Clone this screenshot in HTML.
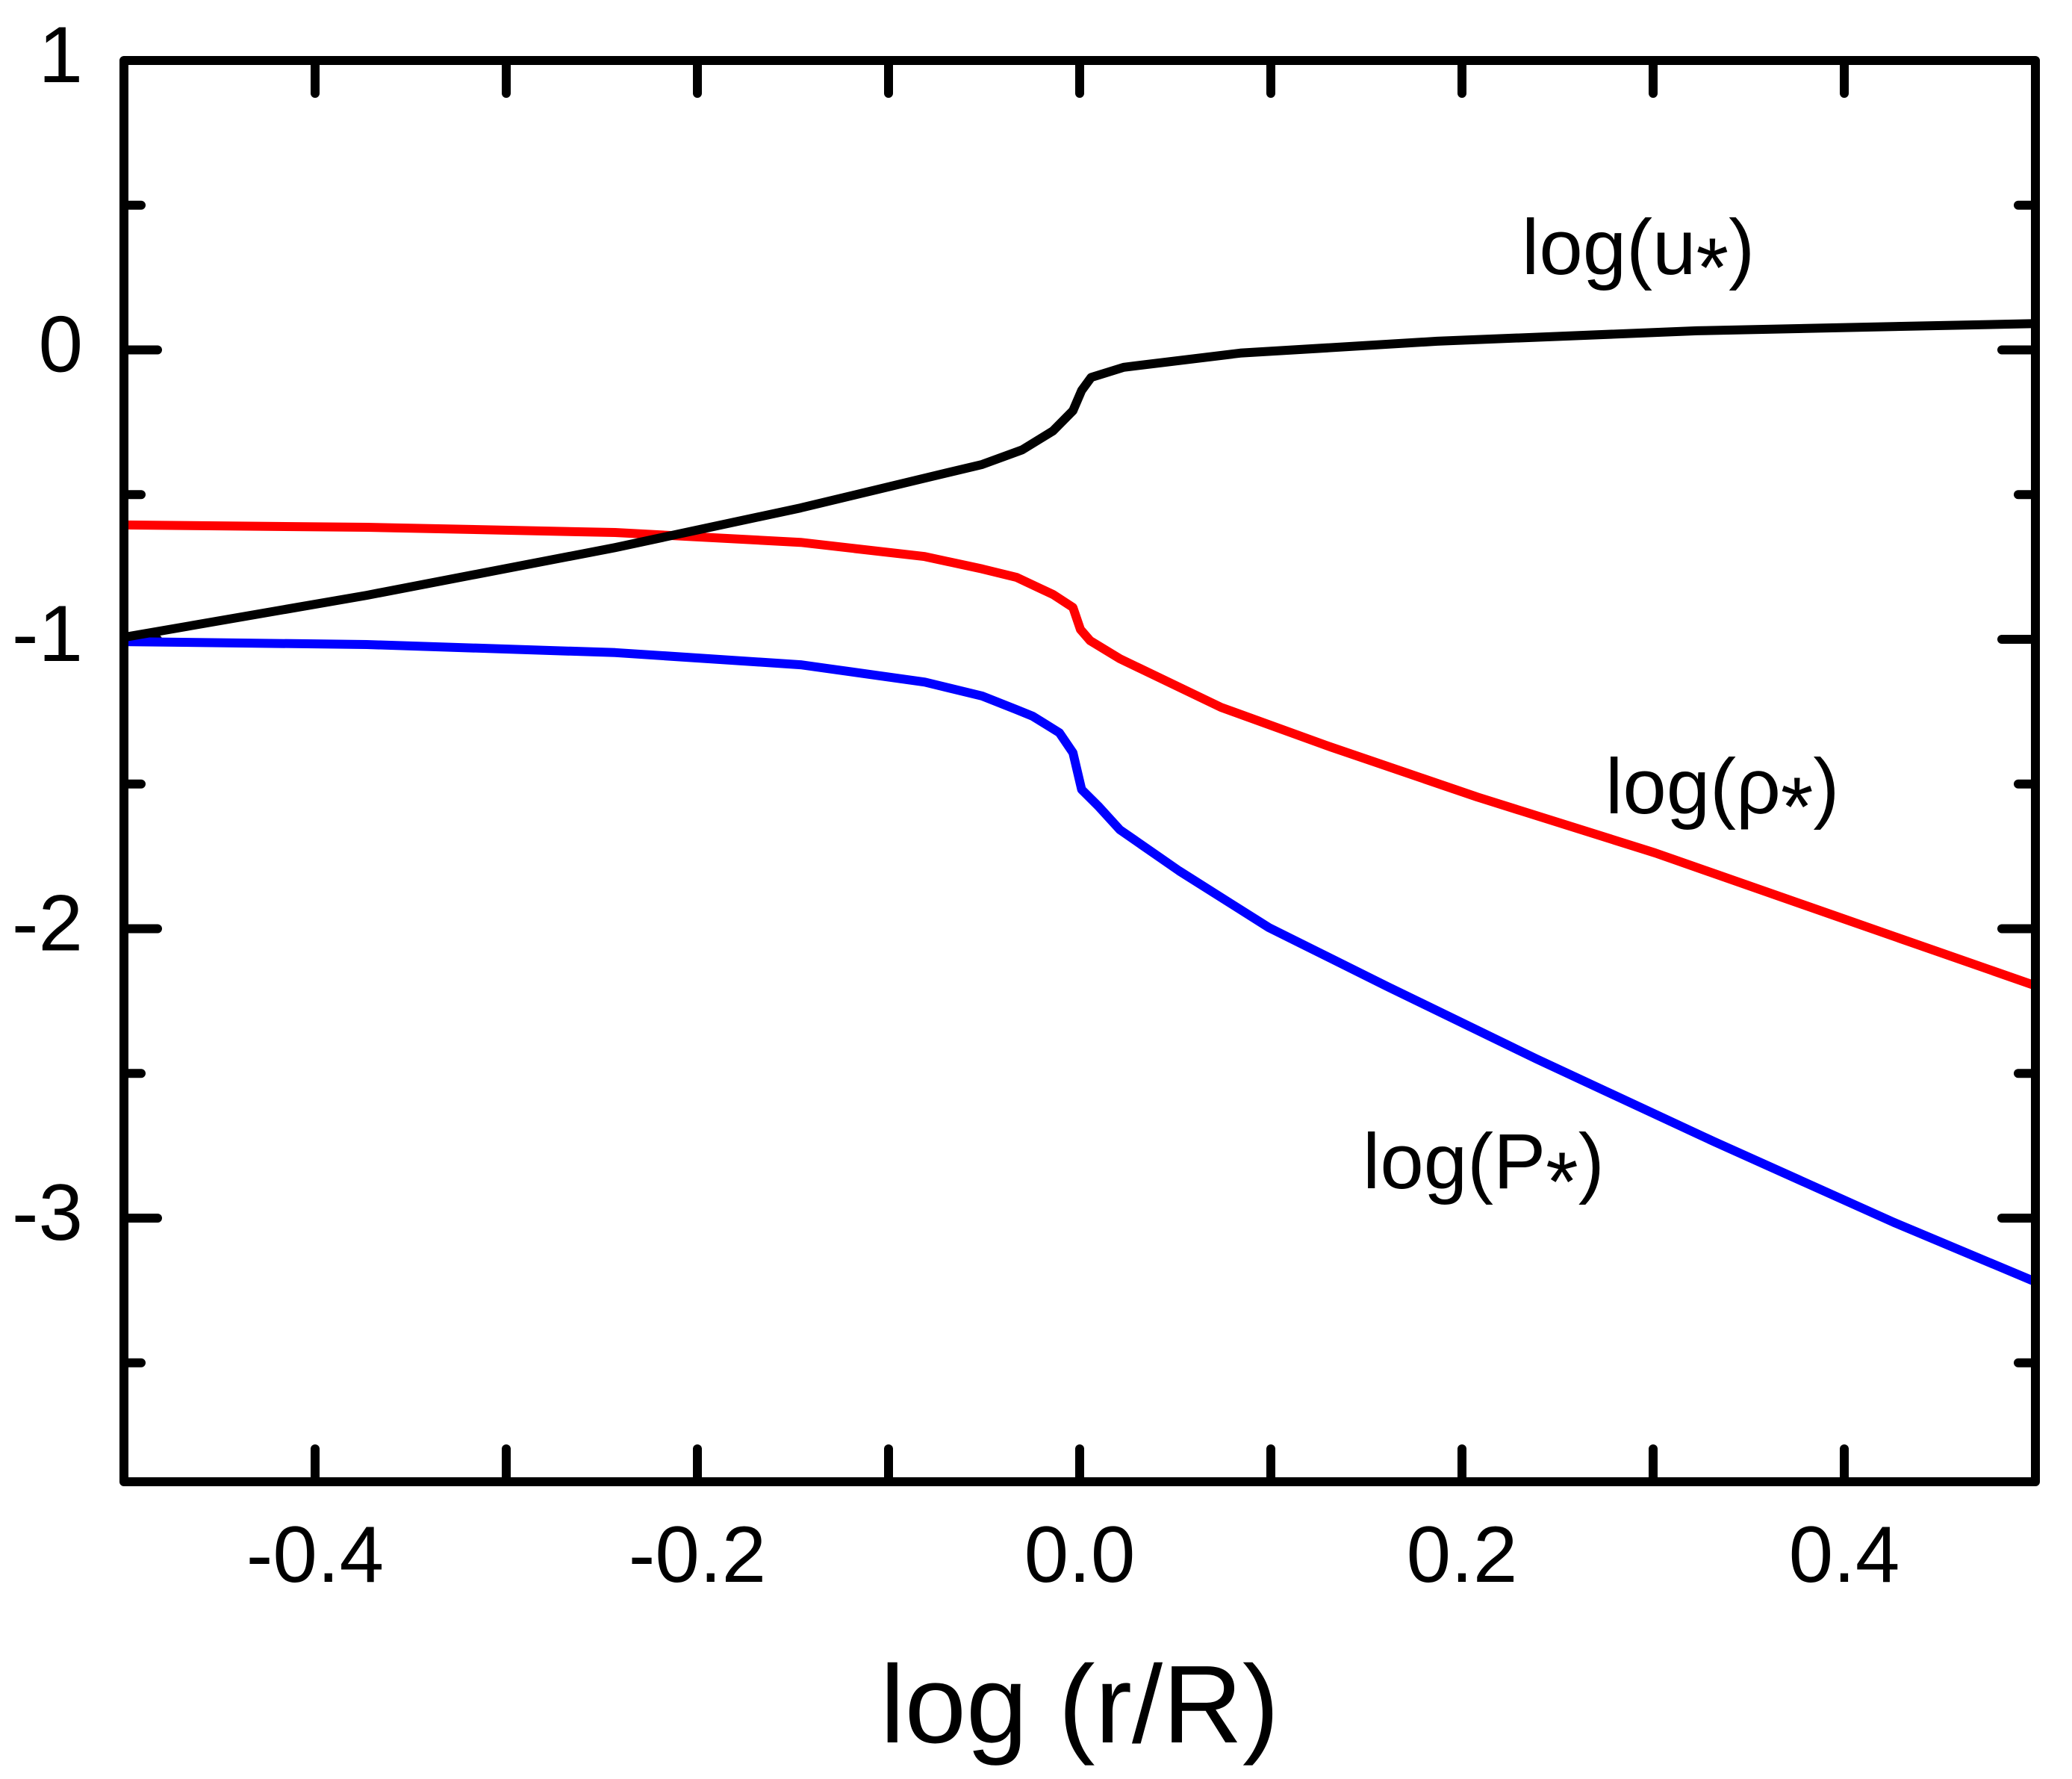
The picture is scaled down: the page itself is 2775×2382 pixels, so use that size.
<!DOCTYPE html>
<html><head><meta charset="utf-8"><style>
html,body{margin:0;padding:0;background:#fff;}
svg{display:block;}
text{font-family:"Liberation Sans",Arial,sans-serif;fill:#000;}
</style></head><body>
<svg id="chart" width="2775" height="2382" viewBox="0 0 2775 2382" xmlns="http://www.w3.org/2000/svg">
<g id="ticks"></g>
<g id="labels"></g>
<g id="series"></g>
<rect x="166" y="81" width="2560" height="1903" fill="none" stroke="#000" stroke-width="12" stroke-linejoin="round"/>
<text x="1446" y="2333" font-size="148" text-anchor="middle">log (r/R)</text>
<text x="2038" y="367" font-size="105">log(u<tspan font-size="112" dy="30">*</tspan><tspan dy="-30">)</tspan></text>
<text x="2150" y="1089" font-size="105">log(ρ<tspan font-size="112" dy="30">*</tspan><tspan dy="-30">)</tspan></text>
<text x="1825" y="1591" font-size="105">log(P<tspan font-size="112" dy="30">*</tspan><tspan dy="-30">)</tspan></text>
</svg>
<script>
const xTickVals = [-0.4,-0.3,-0.2,-0.1,0.0,0.1,0.2,0.3,0.4];
const xTickLabels = ["-0.4","-0.2","0.0","0.2","0.4"];
const xLabelVals = [-0.4,-0.2,0.0,0.2,0.4];
const yTickVals = [0.5,0,-0.5,-1,-1.5,-2,-2.5,-3,-3.5];
const yLabelVals = [1,0,-1,-2,-3];
const yTickLabels = ["1","0","-1","-2","-3"];
const uX = [-0.5,-0.373,-0.243,-0.146,-0.081,-0.051,-0.03,-0.014,-0.0035,0.001,0.006,0.023,0.084,0.187,0.323,0.5];
const uY = [-0.993,-0.848,-0.683,-0.546,-0.443,-0.396,-0.345,-0.28,-0.21,-0.14,-0.095,-0.06,-0.011,0.030,0.066,0.091];
const rhoX = [-0.5,-0.373,-0.243,-0.146,-0.081,-0.051,-0.033,-0.014,-0.0035,0.0004,0.0055,0.021,0.074,0.13,0.208,0.301,0.395,0.5];
const rhoY = [-0.605,-0.613,-0.631,-0.665,-0.714,-0.757,-0.786,-0.845,-0.89,-0.966,-1.005,-1.067,-1.235,-1.369,-1.545,-1.738,-1.955,-2.197];
const pX = [-0.5,-0.373,-0.243,-0.146,-0.081,-0.051,-0.033,-0.0245,-0.0106,-0.0035,0.001,0.0097,0.021,0.052,0.099,0.161,0.239,0.332,0.426,0.5];
const pY = [-1.008,-1.018,-1.046,-1.088,-1.148,-1.196,-1.243,-1.266,-1.323,-1.392,-1.519,-1.576,-1.658,-1.80,-1.996,-2.20,-2.45,-2.736,-3.015,-3.22];

const L=166,R=2726,T=81,B=1984;
const xMin=-0.5,xMax=0.5,yMax=1,yPer=387.5;
function sx(v){return L+(v-xMin)/(xMax-xMin)*(R-L);}
function sy(v){return T+(yMax-v)*yPer;}
const NS="http://www.w3.org/2000/svg";
const tg=document.getElementById('ticks');
const lg=document.getElementById('labels');
const sg=document.getElementById('series');
function line(x1,y1,x2,y2){
  const l=document.createElementNS(NS,'line');
  l.setAttribute('x1',x1);l.setAttribute('y1',y1);l.setAttribute('x2',x2);l.setAttribute('y2',y2);
  l.setAttribute('stroke','#000');l.setAttribute('stroke-width','12');l.setAttribute('stroke-linecap','round');
  return l;
}
xTickVals.forEach(v=>{
  const x=sx(v);
  const a=line(x,B,x,B-44);
  
  
  tg.appendChild(a);
  const b=line(x,T,x,T+44);
  
  
  tg.appendChild(b);
});
yTickVals.forEach(v=>{
  const y=sy(v);
  const len=Number.isInteger(v)?45:23;
  const a=line(L,y,L+len,y);
  
  
  tg.appendChild(a);
  const b=line(R,y,R-len,y);
  
  
  tg.appendChild(b);
});
xLabelVals.forEach((v,i)=>{
  const t=document.createElementNS(NS,'text');
  t.setAttribute('x',sx(v));t.setAttribute('y',2118);
  t.setAttribute('font-size','107');t.setAttribute('text-anchor','middle');
  t.textContent=xTickLabels[i];
  
  
  lg.appendChild(t);
});
yLabelVals.forEach((v,i)=>{
  const t=document.createElementNS(NS,'text');
  t.setAttribute('x',111);t.setAttribute('y',sy(v)+29);
  t.setAttribute('font-size','107');t.setAttribute('text-anchor','end');
  t.textContent=yTickLabels[i];
  
  
  lg.appendChild(t);
});
function series(xs,ys,color,name){
  const p=document.createElementNS(NS,'polyline');
  p.setAttribute('points',xs.map((x,i)=>sx(x).toFixed(1)+','+sy(ys[i]).toFixed(1)).join(' '));
  p.setAttribute('fill','none');p.setAttribute('stroke',color);
  p.setAttribute('stroke-width','12');p.setAttribute('stroke-linejoin','round');
  
  
  sg.appendChild(p);
}
series(rhoX,rhoY,'#ff0000','line-log-rho');
series(pX,pY,'#0000ff','line-log-p');
series(uX,uY,'#000000','line-log-u');
</script>
</body></html>
